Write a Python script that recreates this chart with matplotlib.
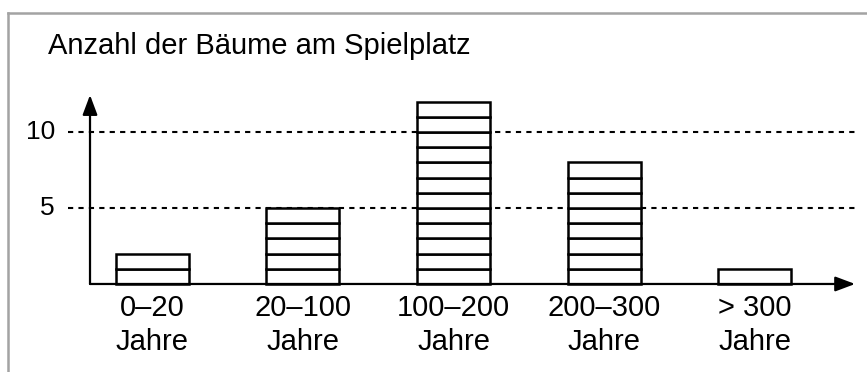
import matplotlib
matplotlib.use("Agg")
import matplotlib.pyplot as plt
from matplotlib.lines import Line2D

# data
categories = ["0–20\nJahre", "20–100\nJahre", "100–200\nJahre", "200–300\nJahre", "> 300\nJahre"]
counts = [2, 5, 12, 8, 1]
grid_ticks = [5, 10]
title = "Anzahl der Bäume am Spielplatz"

plt.rcParams['font.family'] = ['Liberation Sans', 'DejaVu Sans']

fig = plt.figure(figsize=(8.67, 3.72), dpi=100)
ax = fig.add_axes([0, 0, 1, 1])
ax.set_xlim(-1.013, 4.747)
ax.set_ylim(-5.79, 18.68)
ax.axis('off')

x_axis = -0.415   # where the y axis stands
x_end = 4.668     # tip of the x arrow

# dashed helper lines
for t in grid_ticks:
    ax.plot([-0.561, x_end], [t, t], color='black', lw=1.5, ls=(0, (2.5, 2.5)), zorder=1)
    ax.text(-0.648, t, str(t), ha='right', va='center', fontsize=19)

# stacked unit boxes
for i, n in enumerate(counts):
    ax.bar([i] * n, [1] * n, bottom=list(range(n)), width=0.485,
           facecolor='white', edgecolor='black', linewidth=1.8, zorder=2)
    ax.text(i, -0.68, categories[i], ha='center', va='top', fontsize=21, linespacing=1.27)

# axes with arrows
ax.annotate('', xy=(x_end, 0), xytext=(x_axis, 0),
            arrowprops=dict(arrowstyle='-|>,head_length=1.2,head_width=0.45', color='black', lw=1.6,
                            shrinkA=0, shrinkB=0), zorder=3)
ax.annotate('', xy=(x_axis, 12.43), xytext=(x_axis, 0),
            arrowprops=dict(arrowstyle='-|>,head_length=1.2,head_width=0.45', color='black', lw=1.6,
                            shrinkA=0, shrinkB=0), zorder=3)

ax.text(-0.694, 15.13, title, ha='left', va='baseline', fontsize=21)

# grey frame on top and left
fig.add_artist(Line2D([8 / 867, 1], [1 - 13 / 372, 1 - 13 / 372], color='#a3a3a3', lw=1.8))
fig.add_artist(Line2D([8 / 867, 8 / 867], [0, 1 - 13 / 372], color='#a3a3a3', lw=1.8))

fig.savefig('out.png', dpi=100)
